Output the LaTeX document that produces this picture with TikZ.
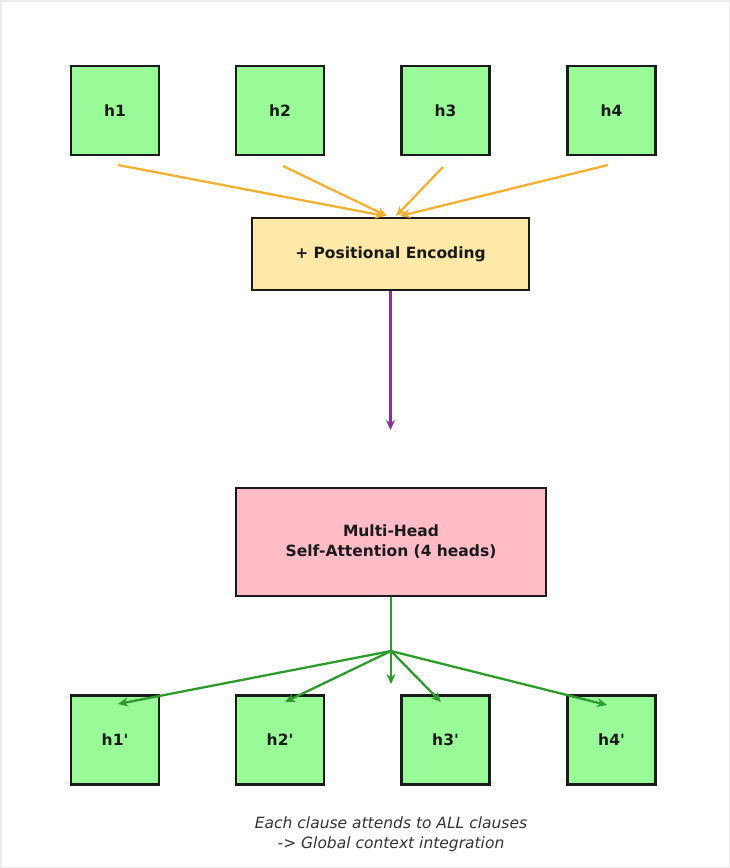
\documentclass[tikz,border=0pt]{standalone}
\usepackage{fontspec}
\setmainfont{DejaVu Sans}
\usetikzlibrary{arrows.meta}
\definecolor{boxgreen}{HTML}{98FB98}
\definecolor{boxyellow}{HTML}{FFE8A8}
\definecolor{boxpink}{HTML}{FFBCC6}
\definecolor{edgedark}{HTML}{1A1A1A}
\definecolor{arrorange}{HTML}{F4B032}
\definecolor{arrpurple}{HTML}{8E2E96}
\definecolor{arrgreen}{HTML}{2E9A2E}
\definecolor{notegray}{HTML}{333333}
\newcommand{\prm}{\textquotesingle}
\tikzset{
  x=1pt, y=-1pt,
  lbl/.style={font=\fontsize{15.5}{20}\selectfont\bfseries, text=edgedark, align=center},
  clause/.style={lbl, draw=edgedark, line width=2.7pt, fill=boxgreen,
                 minimum width=88pt, minimum height=89pt, inner sep=0pt},
  pebox/.style={lbl, draw=edgedark, line width=2.7pt, fill=boxyellow,
                minimum width=277pt, minimum height=72pt, inner sep=0pt},
  attbox/.style={lbl, draw=edgedark, line width=2.7pt, fill=boxpink,
                 minimum width=310pt, minimum height=108pt, inner sep=0pt},
  feed/.style={draw=arrorange, line width=2.3pt, -{Stealth[length=10pt,width=9pt]}},
  pass/.style={draw=arrpurple, line width=2.6pt, -{Stealth[length=10pt,width=9pt]}},
  spread/.style={draw=arrgreen, line width=2.3pt, -{Stealth[length=10pt,width=9pt]}},
  stem/.style={draw=arrgreen, line width=2.3pt},
  note/.style={font=\fontsize{15.5}{20}\selectfont\itshape, text=notegray, align=center}
}
\begin{document}
\begin{tikzpicture}
\useasboundingbox (0,0) rectangle (730,868);
\fill[white] (0,0) rectangle (730,868);
\draw[color=black!8, line width=1.5pt] (0.75,0.75) rectangle (729.25,867.25);

% input clause embeddings
\node[clause] (h1) at (115,110.5) {h1};
\node[clause] (h2) at (280,110.5) {h2};
\node[clause] (h3) at (445.5,110.5) {h3};
\node[clause] (h4) at (611.5,110.5) {h4};

% positional encoding and attention blocks
\node[pebox] (pe) at (390.5,254) {+ Positional Encoding};
\node[attbox] (mha) at (391,542) {Multi-Head\\Self-Attention (4 heads)};

% output clause embeddings
\node[clause] (o1) at (115,740) {h1\prm};
\node[clause] (o2) at (280,740) {h2\prm};
\node[clause] (o3) at (445.5,740) {h3\prm};
\node[clause] (o4) at (611.5,740) {h4\prm};

% free ends of the connectors
\coordinate (s1) at (118,165);
\coordinate (s2) at (283,166);
\coordinate (s3) at (443,167);
\coordinate (s4) at (608,165);
\coordinate (t1) at (385,216);
\coordinate (t2) at (387,216);
\coordinate (t3) at (396,216);
\coordinate (t4) at (400,216);
\coordinate (pend) at (390.5,430);
\coordinate (fan) at (391,651);
\coordinate (down) at (391,684);
\coordinate (e1) at (118,704);
\coordinate (e2) at (285,702);
\coordinate (e3) at (441,702);
\coordinate (e4) at (607,705);

% clauses feed the positional encoding
\draw[feed] (s1) -- (t1);
\draw[feed] (s2) -- (t2);
\draw[feed] (s3) -- (t3);
\draw[feed] (s4) -- (t4);

\draw[pass] (pe.south) -- (pend);

% attention output fans out to every clause
\draw[stem] (mha.south) -- (fan);
\draw[spread] (fan) -- (down);
\draw[spread] (fan) -- (e1);
\draw[spread] (fan) -- (e2);
\draw[spread] (fan) -- (e3);
\draw[spread] (fan) -- (e4);

\node[note] (cap) at (391,834) {Each clause attends to ALL clauses\\-> Global context integration};
\end{tikzpicture}
\end{document}
